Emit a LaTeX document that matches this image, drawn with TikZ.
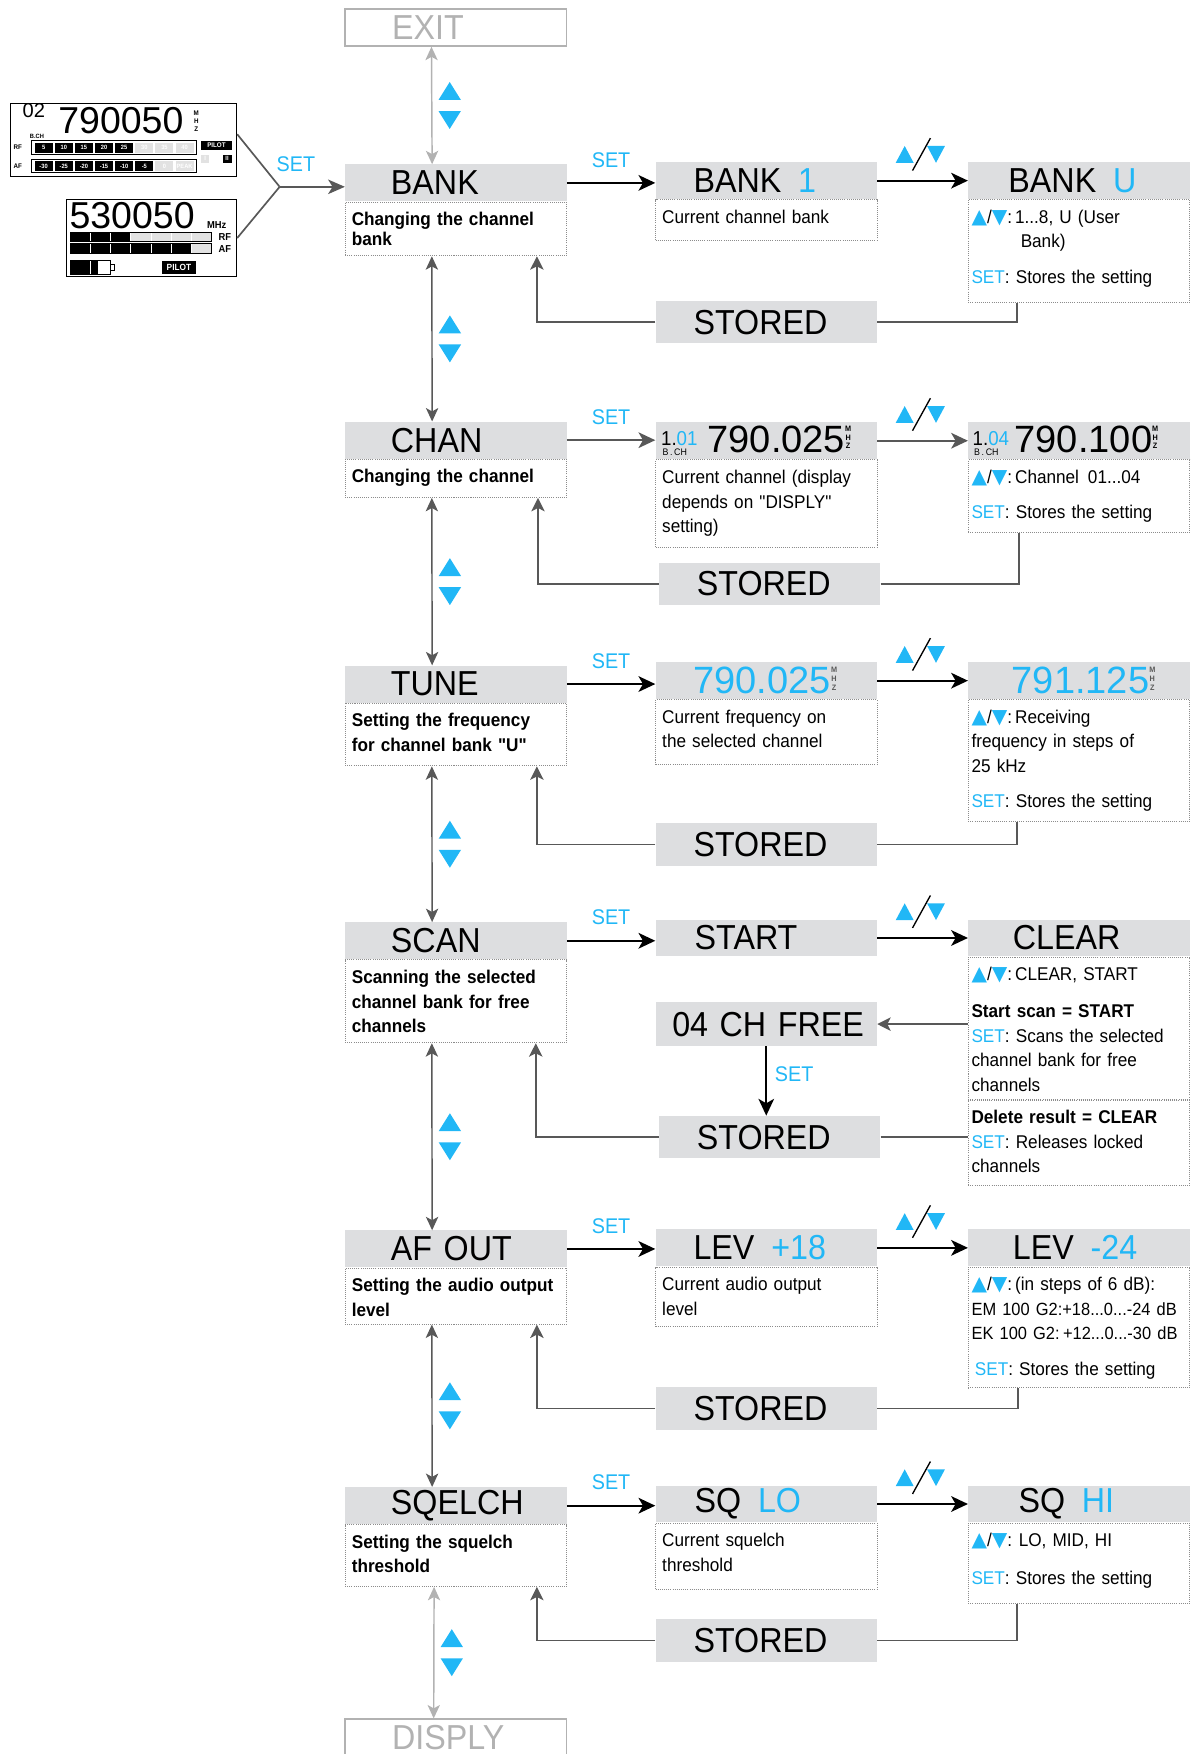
\documentclass[tikz,border=0pt]{standalone}
\usepackage{fontspec}
\setmainfont{Liberation Sans}[FakeStretch=0.93]
\newfontfamily\numfont{Liberation Sans}
\newfontfamily\symfont{DejaVu Sans}
\usetikzlibrary{arrows.meta,positioning}
\definecolor{skyc}{RGB}{33,183,246}
\definecolor{hdgray}{RGB}{221,222,224}
\definecolor{lngray}{RGB}{88,88,88}
\definecolor{ltgray}{RGB}{178,178,178}
\definecolor{dotgray}{RGB}{140,140,140}
\definecolor{cellgray}{RGB}{226,226,226}

\newcommand\tup{{\symfont\fontsize{18}{18}\selectfont\color{skyc}▲}}
\newcommand\tdn{{\symfont\fontsize{18}{18}\selectfont\color{skyc}▼}}
\newcommand\ukeys{\tup/\tdn:}
\newcommand\setk{\textcolor{skyc}{SET}}
\newcommand\dq{{\addfontfeatures{Ligatures=TeXOff}"}}
\newcommand\mhz[1][black]{\raisebox{3pt}{\color{#1}\fontsize{7}{7}\selectfont\bfseries\shortstack{M\\H\\Z}}}
\newcommand\dtext[2]{\parbox[t][#1][t]{\linewidth}{\rule{0pt}{21pt}#2}}
% key triangles beside a vertical link
\newcommand\updn[1]{%
  \fill[skyc] ([xshift=6pt,yshift=5pt]#1) -- ([xshift=26pt,yshift=5pt]#1) -- ([xshift=16pt,yshift=21pt]#1) -- cycle;
  \fill[skyc] ([xshift=6pt,yshift=-5pt]#1) -- ([xshift=26pt,yshift=-5pt]#1) -- ([xshift=16pt,yshift=-21pt]#1) -- cycle;}
% up/down mark with slash over a horizontal arrow
\newcommand\swapmark[1]{%
  \fill[skyc] ([xshift=-24pt,yshift=16pt]#1) -- ([xshift=-8pt,yshift=16pt]#1) -- ([xshift=-16pt,yshift=31pt]#1) -- cycle;
  \fill[skyc] ([xshift=4pt,yshift=31pt]#1) -- ([xshift=20pt,yshift=31pt]#1) -- ([xshift=12pt,yshift=16pt]#1) -- cycle;
  \draw[line width=1.2pt] ([xshift=-9pt,yshift=9pt]#1) -- ([xshift=7pt,yshift=38pt]#1);}

\begin{document}
\begin{tikzpicture}[x=1pt, y=-1pt,
    every node/.style={inner sep=0pt},
    head/.style={fill=hdgray, minimum height=33pt, text width=198pt, align=left,
      font=\fontsize{31}{33}\selectfont, execute at begin node={\hspace*{#1}}},
    head/.default=34pt,
    stored/.style={head, minimum height=38pt},
    exitbox/.style={head=42pt, fill=none, draw=ltgray, line width=1.6pt, text=ltgray},
    desc/.style={draw=dotgray, densely dotted, line width=0.9pt, anchor=north, inner xsep=6pt,
      inner ysep=0pt, text width=186pt, align=left, font=\fontsize{16.5}{22}\selectfont},
    descr/.style={desc, inner xsep=3pt, text width=192pt},
    descb/.style={desc, font=\fontsize{16.5}{22}\selectfont\bfseries},
    arrow/.style={-{Stealth[length=15pt,width=14pt,inset=4pt]}, line width=2pt},
    arrowg/.style={arrow, lngray},
    back/.style={-{Stealth[length=12pt,width=12pt,inset=3pt]}, lngray, line width=1.5pt},
    backl/.style={lngray, line width=1.5pt},
    vlink/.style={{Stealth[length=12pt,width=11pt,inset=3pt]}-{Stealth[length=12pt,width=11pt,inset=3pt]}, lngray, line width=1.3pt},
    vlinkl/.style={vlink, ltgray},
    setc/.style={text=skyc, font=\fontsize{19}{19}\selectfont},
    setl/.style={setc, above=13pt},
    setr/.style={setc, right=7pt, yshift=6pt},
    lcd/.style={draw, line width=1.1pt},
    cell/.style={fill=black, text=white, minimum width=16pt, minimum height=9pt, font=\bfseries\fontsize{5.5}{5.5}\selectfont}
  ]
  \useasboundingbox (0,0) rectangle (1065,1568);

  % receiver displays
  \node[lcd, minimum width=202pt, minimum height=65pt] (disp1) at (110.5,125) {};
  \node[anchor=base west, font=\numfont\fontsize{18}{18}\selectfont] (bch1) at (20,105) {02};
  \node[anchor=base west, font=\numfont\fontsize{33.5}{33.5}\selectfont] (freq1) at (52,119) {790050};
  \node[font=\bfseries\fontsize{5.5}{5.5}\selectfont] (bchl) at (33,121.5) {B.CH};
  \node[font=\bfseries\fontsize{6}{7}\selectfont, align=center] (mhz1) at (175.5,108.5) {M\\H\\Z};
  \node[font=\bfseries\fontsize{6}{6}\selectfont] (rfl1) at (16,132) {RF};
  \node[font=\bfseries\fontsize{6}{6}\selectfont] (afl1) at (16,148.5) {AF};
  \draw[line width=0.8pt] (28,126) rectangle (176,138);
  \draw[line width=0.8pt] (28,142.5) rectangle (176,154.5);
  \foreach \v [count=\i] in {5,10,15,20,25}
    \node[cell] (rf\i) at (21+18*\i,132) {\v};
  \foreach \v [count=\i from 6] in {30,35,40}
    \node[cell, fill=cellgray] (rf\i) at (21+18*\i,132) {\v};
  \foreach \v [count=\i] in {-30,-25,-20,-15,-10,-5}
    \node[cell] (af\i) at (21+18*\i,148.5) {\v};
  \foreach \v [count=\i from 7] in {0,PEAK}
    \node[cell, fill=cellgray] (af\i) at (21+18*\i,148.5) {\v};
  \node[fill=black, text=white, font=\bfseries\fontsize{6}{6}\selectfont, minimum width=27pt, minimum height=8.5pt] (pilot1) at (193.5,130) {PILOT};
  \node[fill=cellgray, text=white, font=\bfseries\fontsize{5.5}{5.5}\selectfont, minimum width=7pt, minimum height=7pt] (div1) at (183.5,142) {I};
  \node[fill=black, text=white, font=\bfseries\fontsize{5.5}{5.5}\selectfont, minimum width=8pt, minimum height=7pt] (div2) at (203,142) {II};

  \node[lcd, minimum width=152pt, minimum height=69pt] (disp2) at (135.5,212.8) {};
  \node[anchor=base west, font=\numfont\fontsize{33.5}{33.5}\selectfont] (freq2) at (62,204) {530050};
  \node[anchor=base west, font=\bfseries\fontsize{9}{9}\selectfont] (mhz2) at (185,204) {MHz};
  \fill[cellgray] (63,207.5) rectangle (189,215.5);
  \fill[black] (63,207.5) rectangle (117,215.5);
  \fill[cellgray] (63,218) rectangle (189,226.5);
  \fill[black] (63,218) rectangle (171,226.5);
  \foreach \x in {81,99,117,135,153,171} {
    \draw[white, line width=0.8pt] (\x,207.5) -- (\x,215.5);
    \draw[white, line width=0.8pt] (\x,218) -- (\x,226.5);
  }
  \draw[line width=0.8pt] (63,207.5) rectangle (189,215.5);
  \draw[line width=0.8pt] (63,218) rectangle (189,226.5);
  \node[font=\bfseries\fontsize{9}{9}\selectfont] (rfl2) at (201,211.5) {RF};
  \node[font=\bfseries\fontsize{9}{9}\selectfont] (afl2) at (201,222.5) {AF};
  \fill (63,233) rectangle (88,245);
  \draw[white, line width=1pt] (81,233.5) -- (81,244.5);
  \draw[line width=0.8pt] (63,233) rectangle (99,245);
  \draw[line width=0.8pt] (99,236) rectangle (102.5,242);
  \node[fill=black, text=white, font=\bfseries\fontsize{8}{8}\selectfont, minimum width=30pt, minimum height=11pt] (pilot2) at (160,239) {PILOT};

  \coordinate (join) at (250,167);
  \draw[backl] ([yshift=5pt]disp1.east) -- (join);
  \draw[backl] (disp2.east) -- (join);

  % left column
  \node[exitbox] (exit) at (407.5,24.5) {EXIT};
  \node[head=41pt] (bank) at (407.5,163.5) {BANK};
  \node[descb, below=0pt of bank] (bankd) {\dtext{48pt}{Changing the channel\\[-4pt]bank}};
  \node[head=41pt] (chan) at (407.5,393.5) {CHAN};
  \node[descb, below=0pt of chan] (chand) {\dtext{34pt}{Changing the channel}};
  \node[head=41pt] (tune) at (407.5,611.5) {TUNE};
  \node[descb, below=0pt of tune] (tuned) {\dtext{56pt}{Setting the frequency\\for channel bank \dq U\dq}};
  \node[head=41pt] (scan) at (407.5,841) {SCAN};
  \node[descb, below=0pt of scan] (scand) {\dtext{74pt}{Scanning the selected\\channel bank for free\\channels}};
  \node[head=41pt] (afout) at (407.5,1116.5) {AF OUT};
  \node[descb, below=0pt of afout] (afoutd) {\dtext{50pt}{Setting the audio output\\level}};
  \node[head=41pt] (sqelch) at (407.5,1346) {SQELCH};
  \node[descb, below=0pt of sqelch] (sqelchd) {\dtext{55pt}{Setting the squelch\\threshold}};
  \node[exitbox, minimum height=32pt] (disply) at (407.5,1553) {DISPLY};

  % middle column
  \node[head] (bank1) at (685,161.5) {BANK\hspace{15pt}\textcolor{skyc}{1}};
  \node[desc, below=0pt of bank1] (bank1d) {\dtext{36pt}{Current channel bank}};
  \node[head=5pt] (chan1) at (685,394) {\raisebox{-3pt}{\shortstack[l]{\fontsize{18}{18}\selectfont 1.\textcolor{skyc}{01}\\\fontsize{8.5}{8.5}\selectfont\,B\,.\,CH}}\hspace{9pt}{\numfont\fontsize{34}{34}\selectfont 790.025}\mhz};
  \node[desc, below=0pt of chan1] (chan1d) {\dtext{78pt}{Current channel (display\\depends on \dq DISPLY\dq\\setting)}};
  \node[head] (tunef) at (685,608.5) {\textcolor{skyc}{\numfont\fontsize{34}{34}\selectfont 790.025}\mhz[lngray]};
  \node[desc, below=0pt of tunef] (tunefd) {\dtext{58pt}{Current frequency on\\the selected channel}};
  \node[head=35pt] (start) at (685,838.5) {START};
  \node[head=15pt, minimum height=39pt] (free) at (685,915.5) {04 CH FREE};
  \node[head] (lev1) at (685,1115.5) {LEV\hspace{15pt}\textcolor{skyc}{+18}};
  \node[desc, below=0pt of lev1] (lev1d) {\dtext{53pt}{Current audio output\\level}};
  \node[head=35pt] (sqlo) at (685,1344.5) {SQ\hspace{15pt}\textcolor{skyc}{LO}};
  \node[desc, below=0pt of sqlo] (sqlod) {\dtext{59pt}{Current squelch\\threshold}};

  \node[stored] (st1) at (685,288) {STORED};
  \node[stored] (st2) at (688,522) {STORED};
  \node[stored] (st3) at (685,755) {STORED};
  \node[stored] (st4) at (688,1016.5) {STORED};
  \node[stored] (st5) at (685,1259) {STORED};
  \node[stored] (st6) at (685,1466.5) {STORED};

  % right column
  \node[head=36pt] (banku) at (964.5,161.5) {BANK\hspace{15pt}\textcolor{skyc}{U}};
  \node[descr, below=0pt of banku] (bankud) {\dtext{92pt}{\ukeys{}\,1...8, U (User\\\hspace*{44pt}Bank)\\[10pt]\setk: Stores the setting}};
  \node[head=4pt] (chan4) at (964.5,394) {\raisebox{-3pt}{\shortstack[l]{\fontsize{18}{18}\selectfont 1.\textcolor{skyc}{04}\\\fontsize{8.5}{8.5}\selectfont\,B\,.\,CH}}\hspace{5pt}{\numfont\fontsize{34}{34}\selectfont 790.100}\mhz};
  \node[descr, below=0pt of chan4] (chan4d) {\dtext{65pt}{\ukeys{}\,Channel\hspace{8pt}01...04\\[9pt]\setk: Stores the setting}};
  \node[head=39pt] (tunen) at (964.5,608.5) {\textcolor{skyc}{\numfont\fontsize{34}{34}\selectfont 791.125}\mhz[lngray]};
  \node[descr, below=0pt of tunen] (tunend) {\dtext{109pt}{\ukeys{}\,Receiving\\frequency in steps of\\25 kHz\\[9pt]\setk: Stores the setting}};
  \node[head=40pt] (clear) at (964.5,838.5) {CLEAR};
  \node[descr, below=0pt of clear] (clear1) {\dtext{127pt}{\ukeys{}\,CLEAR, START\\[11pt]\textbf{Start scan = START}\\\setk: Scans the selected\\channel bank for free\\channels}};
  \node[descr, below=0pt of clear1] (clear2) {\dtext{76pt}{\textbf{Delete result = CLEAR}\\\setk: Releases locked\\channels}};
  \node[head=40pt] (lev2) at (964.5,1115.5) {LEV\hspace{15pt}\textcolor{skyc}{-24}};
  \node[descr, below=0pt of lev2] (lev2d) {\dtext{108pt}{\ukeys{}\,(in steps of 6 dB):\\{\fontsize{15.8}{22}\selectfont EM 100 G2:+18...0...-24 dB}\\{\fontsize{15.8}{22}\selectfont EK 100 G2:\hspace{3pt}+12...0...-30 dB}\\[10pt]\hspace*{3pt}\setk: Stores the setting}};
  \node[head=45pt] (sqhi) at (964.5,1344.5) {SQ\hspace{15pt}\textcolor{skyc}{HI}};
  \node[descr, below=0pt of sqhi] (sqhid) {\dtext{72pt}{\ukeys{}\hspace{6pt}LO, MID, HI\\[12pt]\setk: Stores the setting}};

  % connectors
  \draw[back, -{Stealth[length=15pt,width=13pt,inset=4pt]}] (join) -- node[setl, pos=0.25] (set0) {SET} (join -| bank.west);

  \draw[vlinkl] ([xshift=78pt]exit.south west) -- coordinate (ud0) ([xshift=78pt]bank.north west);
  \draw[vlink] ([xshift=78pt]bankd.south west) -- coordinate (ud1) ([xshift=78pt]chan.north west);
  \draw[vlink] ([xshift=78pt]chand.south west) -- coordinate (ud2) ([xshift=78pt]tune.north west);
  \draw[vlink] ([xshift=78pt]tuned.south west) -- coordinate (ud3) ([xshift=78pt]scan.north west);
  \draw[vlink] ([xshift=78pt]scand.south west) -- coordinate (ud4) ([xshift=78pt]afout.north west);
  \draw[vlink] ([xshift=78pt]afoutd.south west) -- coordinate (ud5) ([xshift=78pt]sqelch.north west);
  \draw[vlinkl] ([xshift=80pt]sqelchd.south west) -- coordinate (ud6) ([xshift=80pt]disply.north west);
  \foreach \u in {ud0,ud1,ud2,ud3,ud4,ud5,ud6} {\updn{\u}}

  \draw[arrow] (bank.east) -- node[setl] (set1) {SET} (bank.east -| bank1.west);
  \draw[arrow] (bank1.east) -- coordinate (sw1) (banku.west);
  \draw[arrowg] (chan.east) -- node[setl] (set2) {SET} (chan.east -| chan1.west);
  \draw[arrowg] (chan1.east) -- coordinate (sw2) (chan4.west);
  \draw[arrow] (tune.east) -- node[setl] (set3) {SET} (tune.east -| tunef.west);
  \draw[arrow] (tunef.east) -- coordinate (sw3) (tunen.west);
  \draw[arrow] (scan.east) -- node[setl] (set4) {SET} (scan.east -| start.west);
  \draw[arrow] (start.east) -- coordinate (sw4) (clear.west);
  \draw[arrow] (afout.east) -- node[setl] (set5) {SET} (afout.east -| lev1.west);
  \draw[arrow] (lev1.east) -- coordinate (sw5) (lev2.west);
  \draw[arrow] (sqelch.east) -- node[setl] (set6) {SET} (sqelch.east -| sqlo.west);
  \draw[arrow] (sqlo.east) -- coordinate (sw6) (sqhi.west);
  \foreach \s in {sw1,sw2,sw3,sw4,sw5,sw6} {\swapmark{\s}}

  \draw[back] (clear1.west |- free.east) -- (free.east);
  \draw[arrow, line width=1.6pt] (free.south) -- node[setr] (set7) {SET} (free.south |- st4.north);

  \draw[back] (st1.west) -| ([xshift=-27pt]bankd.south east);
  \draw[backl] (st1.east) -| ([xshift=44pt]bankud.south west);
  \draw[back] (st2.west) -| ([xshift=-26pt]chand.south east);
  \draw[backl] (st2.east) -| ([xshift=46pt]chan4d.south west);
  \draw[back] (st3.west) -| ([xshift=-27pt]tuned.south east);
  \draw[backl] (st3.east) -| ([xshift=44pt]tunend.south west);
  \draw[back] (st4.west) -| ([xshift=-28pt]scand.south east);
  \draw[backl] (st4.east) -- (st4.east -| clear2.west);
  \draw[back] (st5.west) -| ([xshift=-27pt]afoutd.south east);
  \draw[backl] (st5.east) -| ([xshift=45pt]lev2d.south west);
  \draw[back] (st6.west) -| ([xshift=-27pt]sqelchd.south east);
  \draw[backl] (st6.east) -| ([xshift=44pt]sqhid.south west);
\end{tikzpicture}
\end{document}
